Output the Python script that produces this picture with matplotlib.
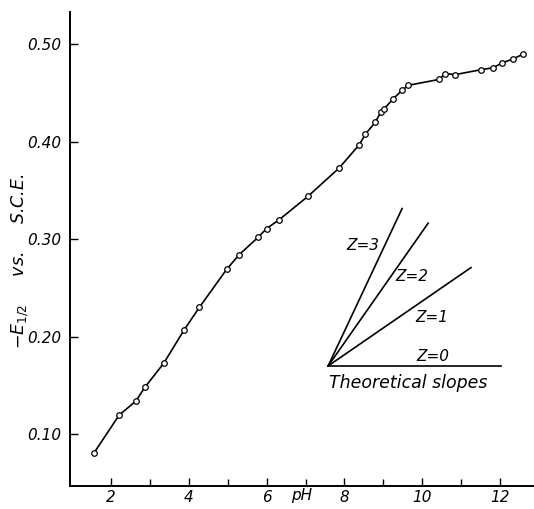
import matplotlib.pyplot as plt
import matplotlib.transforms as mtransforms

# measured points, -E1/2 (V vs. S.C.E.) against pH
ph = [1.56, 2.21, 2.64, 2.87, 3.36, 3.88, 4.27, 4.97, 5.29, 5.78, 6.0, 6.32,
      7.06, 7.86, 8.38, 8.54, 8.79, 8.94, 9.02, 9.25, 9.48, 9.64, 10.43,
      10.59, 10.85, 11.51, 11.82, 12.05, 12.33, 12.59]
e_half = [0.0805, 0.1195, 0.134, 0.148, 0.173, 0.207, 0.230, 0.269, 0.284,
          0.302, 0.311, 0.320, 0.344, 0.373, 0.397, 0.408, 0.420, 0.431,
          0.434, 0.444, 0.453, 0.458, 0.464, 0.470, 0.469, 0.474, 0.476,
          0.481, 0.485, 0.490]

# theoretical slope fan
origin_ph, origin_e = 7.58, 0.170
z_vals = [0, 1, 2, 3]
slopes = [0.0, 0.0275, 0.057, 0.085]
end_ph = [12.03, 11.25, 10.15, 9.48]
z_label_pos = [(10.28, 0.180), (10.25, 0.220), (9.74, 0.262), (8.48, 0.294)]

plt.rcParams['font.family'] = ['DejaVu Sans']

fig = plt.figure(figsize=(5.34, 5.09), dpi=100)
ax = fig.add_axes([0.131, 0.045, 0.869, 0.931])

ax.plot(ph, e_half, color='black', lw=1.2, marker='o', ms=4,
        mfc='white', mec='black', mew=0.9)

for z, s, xe in zip(z_vals, slopes, end_ph):
    ax.plot([origin_ph, xe], [origin_e, origin_e + s * (xe - origin_ph)],
            color='black', lw=1.2)
for z, (xt, yt) in zip(z_vals, z_label_pos):
    ax.text(xt, yt, 'Z=%d' % z, fontsize=11, style='italic',
            ha='center', va='center')
ax.text(9.63, 0.153, 'Theoretical slopes', fontsize=12.5, style='italic',
        ha='center', va='center')

ax.set_xlim(0.946, 12.87)
ax.set_ylim(0.0467, 0.533)
ax.set_xticks([2, 4, 6, 8, 10, 12])
ax.set_xticks([3, 5, 7, 9, 11], minor=True)
ax.set_yticks([0.10, 0.20, 0.30, 0.40, 0.50])
ax.set_yticklabels(['0.10', '0.20', '0.30', '0.40', '0.50'])
for lab in ax.get_xticklabels() + ax.get_yticklabels():
    lab.set_style('italic')
    lab.set_fontsize(11)
ax.tick_params(direction='in', length=6, width=1, pad=6)
ax.tick_params(which='minor', direction='in', length=5, width=1)
ax.tick_params(axis='x', pad=3)

for side in ['top', 'right']:
    ax.spines[side].set_visible(False)
ax.spines['left'].set_linewidth(1.4)
ax.spines['bottom'].set_linewidth(1.4)

trans = mtransforms.blended_transform_factory(ax.transData, ax.transAxes)
ax.text(6.9, -0.019, 'pH', transform=trans, fontsize=11, style='italic',
        ha='center', va='center')
fig.text(0.037, 0.487, r'$-E_{1/2}$     vs.     S.C.E.', rotation=90,
         fontsize=12.5, style='italic', ha='center', va='center')

fig.savefig('out.png', dpi=100)
